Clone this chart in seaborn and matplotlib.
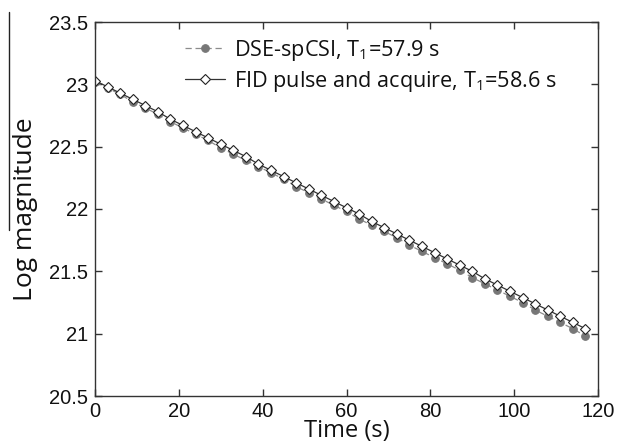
import numpy as np
import pandas as pd
import seaborn as sns
import matplotlib.pyplot as plt
from matplotlib.lines import Line2D

# time points (s)
time_s = [0, 3, 6, 9, 12, 15, 18, 21, 24, 27, 30, 33, 36, 39, 42, 45, 48, 51, 54, 57,
          60, 63, 66, 69, 72, 75, 78, 81, 84, 87, 90, 93, 96, 99, 102, 105, 108, 111, 114, 117]

dse_log_mag = [23.02, 22.97, 22.92, 22.86, 22.81, 22.76, 22.70, 22.65, 22.60, 22.55,
               22.49, 22.44, 22.39, 22.34, 22.29, 22.24, 22.18, 22.13, 22.08, 22.03,
               21.98, 21.92, 21.87, 21.82, 21.77, 21.71, 21.66, 21.61, 21.56, 21.51,
               21.45, 21.40, 21.35, 21.30, 21.25, 21.19, 21.14, 21.09, 21.04, 20.98]

fid_log_mag = [23.03, 22.98, 22.93, 22.88, 22.83, 22.78, 22.72, 22.67, 22.62, 22.57,
               22.52, 22.47, 22.42, 22.36, 22.31, 22.26, 22.21, 22.16, 22.11, 22.06,
               22.01, 21.96, 21.90, 21.85, 21.80, 21.75, 21.70, 21.65, 21.60, 21.55,
               21.50, 21.44, 21.39, 21.34, 21.29, 21.24, 21.19, 21.14, 21.09, 21.04]

dse_label = "DSE-spCSI, T$_1$=57.9 s"
fid_label = "FID pulse and acquire, T$_1$=58.6 s"

df = pd.DataFrame({"time": time_s, "dse": dse_log_mag, "fid": fid_log_mag})

sns.set_theme(style="white")
plt.rcParams["font.family"] = ["Liberation Sans", "DejaVu Sans"]
plt.rcParams["mathtext.fontset"] = "custom"
plt.rcParams["mathtext.rm"] = "Open Sans"

fig = plt.figure(figsize=(6.19, 4.47), dpi=100)
ax = fig.add_axes([95 / 619, 1 - 396 / 447, (598 - 95) / 619, (396 - 22) / 447])

sns.lineplot(data=df, x="time", y="dse", ax=ax, color="#8c8c8c", linestyle=(0, (5, 3)),
             linewidth=0.9, marker="o", markersize=5.5, markerfacecolor="#777777",
             markeredgecolor="#777777", label=dse_label)
sns.lineplot(data=df, x="time", y="fid", ax=ax, color="#333333", linewidth=0.9,
             marker="D", markersize=4.6, markerfacecolor="white",
             markeredgecolor="#222222", markeredgewidth=0.8, label=fid_label)

ax.set_xlim(0, 120)
ax.set_ylim(20.5, 23.5)
ax.set_xticks([0, 20, 40, 60, 80, 100, 120])
ax.set_yticks([20.5, 21, 21.5, 22, 22.5, 23, 23.5])
ax.set_yticklabels(["20.5", "21", "21.5", "22", "22.5", "23", "23.5"])
for spine in ax.spines.values():
    spine.set_color("#333333")
    spine.set_linewidth(1.0)
ax.tick_params(axis="both", direction="in", length=5, width=1, color="#333333",
               labelsize=14.5, labelcolor="#111111", top=True, right=True,
               bottom=True, left=True)
ax.tick_params(axis="x", labeltop=False, pad=4)
ax.tick_params(axis="y", labelright=False, pad=5)

ax.set_xlabel("Time (s)", fontfamily="Open Sans", fontsize=17, color="#111111", labelpad=-1)
ax.set_ylabel("Log magnitude", fontfamily="Open Sans", fontsize=19, color="#111111", labelpad=8)

leg = ax.legend(loc="upper left", bbox_to_anchor=(0.14, 1.01), frameon=False,
                handlelength=1.85, handletextpad=0.42, labelspacing=0.28,
                prop={"family": "Open Sans", "size": 15.6})
for t in leg.get_texts():
    t.set_color("#111111")

# stray rule at left edge of the original figure
fig.add_artist(Line2D([9 / 619, 9 / 619], [1 - 12 / 447, 1 - 230 / 447],
                      transform=fig.transFigure, color="#222222", linewidth=1.0))

fig.savefig("out.png", dpi=100)
